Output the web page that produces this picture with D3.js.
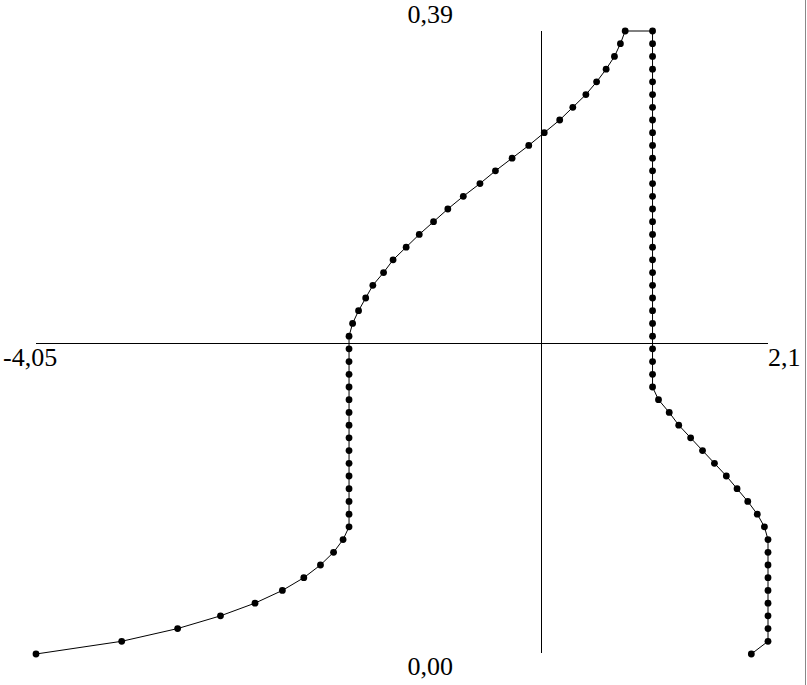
<!DOCTYPE html>
<html>
<head>
<meta charset="utf-8">
<script src="https://cdn.jsdelivr.net/npm/d3@7"></script>
<style>
    html, body { margin: 0; padding: 0; background: #fff; }
    curve-chart { display: block; width: 807px; height: 685px; font-family: "Liberation Serif", "Times New Roman", serif; font-size: 26px; }
</style>
</head>
<body>
<curve-chart></curve-chart>
<script>
// levels, bottom to top
const yLevels = [
    0, 0.00796, 0.01592, 0.02388, 0.03184, 0.0398, 0.04776, 0.05571, 0.06367, 0.07163,
    0.07959, 0.08755, 0.09551, 0.10347, 0.11143, 0.11939, 0.12735, 0.13531, 0.14327, 0.15122,
    0.15918, 0.16714, 0.1751, 0.18306, 0.19102, 0.19898, 0.20694, 0.2149, 0.22286, 0.23082,
    0.23878, 0.24673, 0.25469, 0.26265, 0.27061, 0.27857, 0.28653, 0.29449, 0.30245, 0.31041,
    0.31837, 0.32633, 0.33429, 0.34224, 0.3502, 0.35816, 0.36612, 0.37408, 0.38204, 0.39
];
const leftX = [
    -4.05, -3.33, -2.86, -2.50, -2.21, -1.98, -1.80, -1.66, -1.55, -1.47,
    -1.42, -1.42, -1.42, -1.42, -1.42, -1.42, -1.42, -1.42, -1.42, -1.42,
    -1.42, -1.42, -1.42, -1.42, -1.42, -1.42, -1.39, -1.34, -1.28, -1.22,
    -1.13, -1.05, -0.94, -0.83, -0.71, -0.59, -0.46, -0.32, -0.19, -0.05,
    0.09, 0.22, 0.35, 0.46, 0.57, 0.66, 0.74, 0.81, 0.86, 0.90
];
const rightX = [
    1.96, 2.10, 2.10, 2.10, 2.10, 2.10, 2.10, 2.10, 2.10, 2.10,
    2.07, 2.01, 1.93, 1.84, 1.75, 1.65, 1.55, 1.45, 1.35, 1.27,
    1.18, 1.13, 1.13, 1.13, 1.13, 1.13, 1.13, 1.13, 1.13, 1.13,
    1.13, 1.13, 1.13, 1.13, 1.13, 1.13, 1.13, 1.13, 1.13, 1.13,
    1.13, 1.13, 1.13, 1.13, 1.13, 1.13, 1.13, 1.13, 1.13, 1.13
];
const xDomain = [-4.05, 2.1];
const yDomain = [0, 0.39];
const axisCross = [0.195, 0.195];
const xTickLabels = ['-4,05', '2,1'];
const yTickLabels = ['0,00', '0,39'];

class CurveChart extends HTMLElement {
    constructor() {
        super();
        this.elements = {};
    }

    connectedCallback() {
        this.render();
    }

    _setScales() {
        this.x = d3.scaleLinear().domain(xDomain).range([36, 768]);
        this.y = d3.scaleLinear().domain(yDomain).range([654, 31]);
        // left branch goes up, right branch comes back down
        const left = yLevels.map((v, i) => [leftX[i], v]);
        const right = yLevels.map((v, i) => [rightX[i], v]).reverse();
        this.points = left.concat(right);
    }

    _renderSvg() {
        this.elements.svg = d3.select(this).selectAll('svg').data([1]).join('svg');
        this.elements.svg.attr('width', 807).attr('height', 685);
        // frame edge on the right
        this.elements.svg.append('line')
            .attr('x1', 805.5).attr('x2', 805.5).attr('y1', 0).attr('y2', 685)
            .attr('stroke', '#888').attr('stroke-width', 1);
    }

    _renderAxes() {
        const svg = this.elements.svg;
        const cx = Math.round(this.x(axisCross[0])) + 0.5;
        const cy = Math.round(this.y(axisCross[1])) + 0.5;
        svg.append('line')
            .attr('x1', this.x(xDomain[0])).attr('x2', this.x(xDomain[1]))
            .attr('y1', cy).attr('y2', cy)
            .attr('stroke', '#000').attr('shape-rendering', 'crispEdges');
        svg.append('line')
            .attr('x1', cx).attr('x2', cx)
            .attr('y1', this.y(yDomain[1])).attr('y2', this.y(yDomain[0]) - 1)
            .attr('stroke', '#000').attr('shape-rendering', 'crispEdges');

        svg.selectAll('.xLabel').data(xTickLabels).join('text')
            .classed('xLabel', true)
            .attr('x', (_, i) => i == 0 ? this.x(xDomain[0]) - 33 : this.x(xDomain[1]))
            .attr('y', cy + 22.5)
            .text(d => d);
        svg.selectAll('.yLabel').data(yTickLabels).join('text')
            .classed('yLabel', true)
            .attr('x', cx - 134)
            .attr('y', (_, i) => i == 0 ? this.y(yDomain[0]) + 21 : this.y(yDomain[1]) - 8)
            .text(d => d);
    }

    _renderCurve() {
        const line = d3.line().x(d => this.x(d[0])).y(d => this.y(d[1]));
        this.elements.svg.append('path')
            .datum(this.points)
            .attr('d', line)
            .attr('fill', 'none')
            .attr('stroke', '#000')
            .attr('stroke-width', 1);
        this.elements.svg.selectAll('.dot').data(this.points).join('circle')
            .classed('dot', true)
            .attr('cx', d => this.x(d[0]))
            .attr('cy', d => this.y(d[1]))
            .attr('r', 3.4)
            .attr('fill', '#000');
    }

    render() {
        this._setScales();
        this._renderSvg();
        this._renderAxes();
        this._renderCurve();
    }
}

customElements.define('curve-chart', CurveChart);
</script>
</body>
</html>
